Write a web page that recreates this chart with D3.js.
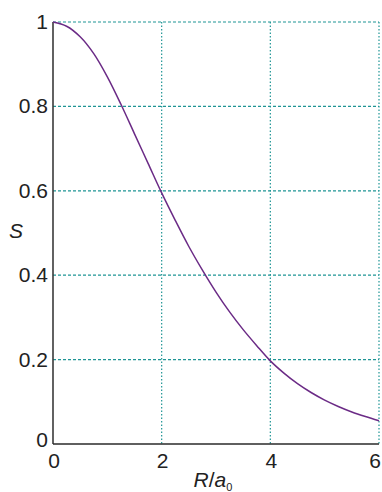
<!DOCTYPE html>
<html>
<head>
<meta charset="utf-8">
<script src="https://cdn.jsdelivr.net/npm/d3@7"></script>
<style>
  body { margin: 0; background: #fff; }
  svg { display: block; font-family: "Liberation Sans", Arial, sans-serif; }
</style>
</head>
<body>
<svg width="382" height="492"></svg>
<script>
// values
const rValues = [0, 0.25, 0.5, 0.75, 1, 1.25, 1.5, 1.75, 2, 2.25, 2.5, 2.75, 3,
  3.25, 3.5, 3.75, 4, 4.25, 4.5, 4.75, 5, 5.25, 5.5, 5.75, 6];
const sValues = [1.0, 0.99, 0.965, 0.925, 0.87, 0.805, 0.735, 0.665, 0.595, 0.53, 0.468, 0.412, 0.36,
  0.313, 0.271, 0.233, 0.197, 0.168, 0.143, 0.122, 0.104, 0.089, 0.076, 0.065, 0.055];
const xTicks = [0, 2, 4, 6];
const yTicks = [0, 0.2, 0.4, 0.6, 0.8, 1];
const yTickLabels = ['0', '0.2', '0.4', '0.6', '0.8', '1'];

const data = rValues.map((r, i) => ({ r: r, s: sValues[i] }));

const svg = d3.select('svg');

const x = d3.scaleLinear().domain([0, 6]).range([53, 379]);
const y = d3.scaleLinear().domain([0, 1]).range([444, 22]);

const grid = '#1f9595';

// horizontal grid lines
svg.append('g')
  .selectAll('line')
  .data(yTicks.filter(d => d > 0))
  .enter().append('line')
    .attr('x1', x(0)).attr('x2', x(6))
    .attr('y1', d => y(d)).attr('y2', d => y(d))
    .attr('stroke', grid)
    .attr('stroke-width', 1.2)
    .attr('stroke-dasharray', '3,2');

// vertical grid lines
svg.append('g')
  .selectAll('line')
  .data(xTicks.filter(d => d > 0))
  .enter().append('line')
    .attr('x1', d => x(d)).attr('x2', d => x(d))
    .attr('y1', y(1)).attr('y2', y(0))
    .attr('stroke', grid)
    .attr('stroke-width', 1.2)
    .attr('stroke-dasharray', '1.5,2');

// axes lines
svg.append('line')
  .attr('x1', x(0)).attr('x2', x(0))
  .attr('y1', y(1)).attr('y2', y(0))
  .attr('stroke', '#3a3a3a').attr('stroke-width', 1.6);
svg.append('line')
  .attr('x1', x(0)).attr('x2', x(6))
  .attr('y1', y(0)).attr('y2', y(0))
  .attr('stroke', '#2a2a2a').attr('stroke-width', 1.6);

// curve
const line = d3.line()
  .curve(d3.curveCatmullRom)
  .x(d => x(d.r))
  .y(d => y(d.s));

svg.append('path')
  .datum(data)
  .attr('d', line)
  .attr('fill', 'none')
  .attr('stroke', '#6b2b86')
  .attr('stroke-width', 1.5);

// tick labels
svg.append('g')
  .selectAll('text')
  .data(yTicks)
  .enter().append('text')
    .attr('x', 48)
    .attr('y', d => d === 0 ? y(d) + 3 : y(d) + 7)
    .attr('text-anchor', 'end')
    .attr('font-size', 21)
    .attr('fill', '#222')
    .text((d, i) => yTickLabels[i]);

svg.append('g')
  .selectAll('text')
  .data(xTicks)
  .enter().append('text')
    .attr('x', d => Math.min(x(d) + 1, 375))
    .attr('y', 468)
    .attr('text-anchor', 'middle')
    .attr('font-size', 21)
    .attr('fill', '#222')
    .text(d => d);

// axis titles
svg.append('text')
  .attr('x', 16).attr('y', 238)
  .attr('text-anchor', 'middle')
  .attr('font-size', 21)
  .attr('font-style', 'italic')
  .attr('fill', '#222')
  .text('S');

const xt = svg.append('text')
  .attr('x', 213).attr('y', 487)
  .attr('text-anchor', 'middle')
  .attr('font-size', 21)
  .attr('fill', '#222');
xt.append('tspan').attr('font-style', 'italic').text('R');
xt.append('tspan').text('/');
xt.append('tspan').attr('font-style', 'italic').text('a');
xt.append('tspan').attr('font-size', 11).attr('dy', 4).text('0');
</script>
</body>
</html>
